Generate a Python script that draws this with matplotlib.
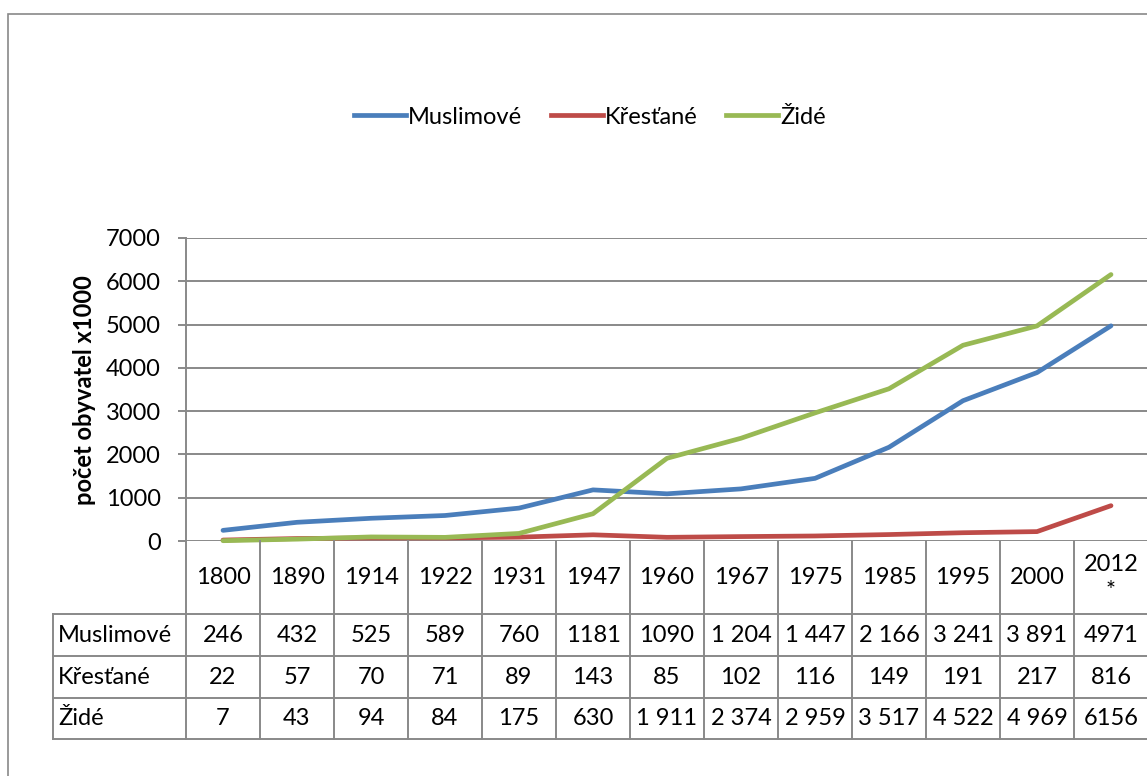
import matplotlib
matplotlib.use("Agg")
import matplotlib.pyplot as plt
from matplotlib.lines import Line2D

years = ["1800", "1890", "1914", "1922", "1931", "1947", "1960", "1967",
         "1975", "1985", "1995", "2000", "2012\n*"]
series_names = ["Muslimové", "Křesťané", "Židé"]
muslimove = [246, 432, 525, 589, 760, 1181, 1090, 1204, 1447, 2166, 3241, 3891, 4971]
krestane = [22, 57, 70, 71, 89, 143, 85, 102, 116, 149, 191, 217, 816]
zide = [7, 43, 94, 84, 175, 630, 1911, 2374, 2959, 3517, 4522, 4969, 6156]
muslimove_lbl = ["246", "432", "525", "589", "760", "1181", "1090", "1 204",
                 "1 447", "2 166", "3 241", "3 891", "4971"]
krestane_lbl = ["22", "57", "70", "71", "89", "143", "85", "102", "116",
                "149", "191", "217", "816"]
zide_lbl = ["7", "43", "94", "84", "175", "630", "1 911", "2 374", "2 959",
            "3 517", "4 522", "4 969", "6156"]
yticks = [0, 1000, 2000, 3000, 4000, 5000, 6000, 7000]

colors = ["#4A7EBB", "#BE4B48", "#98B954"]
grid_c = "#898989"
FONT = "Lato"
FS = 17

plt.rcParams['font.family'] = [FONT, 'DejaVu Sans']

W, H = 1147, 776
fig = plt.figure(figsize=(W / 100, H / 100), dpi=100)

def fx(px):
    return px / W

def fy(py):
    return 1 - py / H

# outer chart frame
frame = plt.Rectangle((fx(8), fy(800)), fx(1200) - fx(8), fy(14) - fy(800),
                      transform=fig.transFigure, fill=False,
                      edgecolor=grid_c, linewidth=1.2)
fig.add_artist(frame)

# main plot axes
x0, x1, ytop, ybot = 186, 1148, 238, 541
ax = fig.add_axes([fx(x0), fy(ybot), fx(x1) - fx(x0), fy(ytop) - fy(ybot)])
n = len(years)
xs = [i + 0.5 for i in range(n)]
ax.set_xlim(0, n)
ax.set_ylim(0, 7000)
ax.set_yticks(yticks)
ax.set_yticklabels([str(v) for v in yticks], fontsize=FS)
ax.set_xticks([])
for v in yticks:
    ax.axhline(v, color=grid_c, linewidth=1.4, zorder=1)
for s in ["top", "right", "bottom"]:
    ax.spines[s].set_visible(False)
ax.spines["left"].set_color(grid_c)
ax.spines["left"].set_linewidth(1.4)
ax.tick_params(axis="y", length=6, width=1.4, color=grid_c, pad=12)

LW = 3.4
for vals, c, name in zip([muslimove, krestane, zide], colors, series_names):
    ax.plot(xs, vals, color=c, linewidth=LW, solid_capstyle="round",
            solid_joinstyle="round", clip_on=False, zorder=3, label=name)

fig.text(fx(85), fy(390), "počet obyvatel x1000", rotation=90, fontsize=FS,
         fontweight="bold", ha="center", va="center")

handles = [Line2D([0], [0], color=c, linewidth=LW) for c in colors]
fig.legend(handles, series_names, loc="center", bbox_to_anchor=(fx(590), fy(117)),
           ncol=3, frameon=False, fontsize=FS, handlelength=2.2,
           handletextpad=0.1, columnspacing=1.2)

# data table axes
tleft, tbot = 53, 739
L = (x0 - tleft) / ((x1 - x0) / n)
tab = fig.add_axes([fx(tleft), fy(tbot), fx(x1) - fx(tleft), fy(ybot) - fy(tbot)])
tab.set_xlim(-L, n)
tab.set_ylim(tbot - ybot, 0)
tab.axis("off")
hdr = 73
rows = [hdr, 115, 157, tbot - ybot]
lw = 1.4
for i in range(n + 1):
    tab.plot([i, i], [0, rows[-1]], color=grid_c, linewidth=lw, clip_on=False)
tab.plot([-L, -L], [hdr, rows[-1]], color=grid_c, linewidth=lw, clip_on=False)
for r in rows:
    tab.plot([-L, n], [r, r], color=grid_c, linewidth=lw, clip_on=False)
for i, y in enumerate(years):
    tab.text(i + 0.5, hdr / 2, y, ha="center", va="center", fontsize=FS,
             linespacing=1.3)
tops = [hdr, 115, 157]
bots = [115, 157, tbot - ybot]
for lbls, name, t, b in zip([muslimove_lbl, krestane_lbl, zide_lbl], series_names, tops, bots):
    cy = (t + b) / 2
    tab.text(-L + 0.07, cy, name, ha="left", va="center", fontsize=FS)
    for i, s in enumerate(lbls):
        tab.text(i + 0.5, cy, s, ha="center", va="center", fontsize=FS)

fig.savefig("out.png", dpi=100)
